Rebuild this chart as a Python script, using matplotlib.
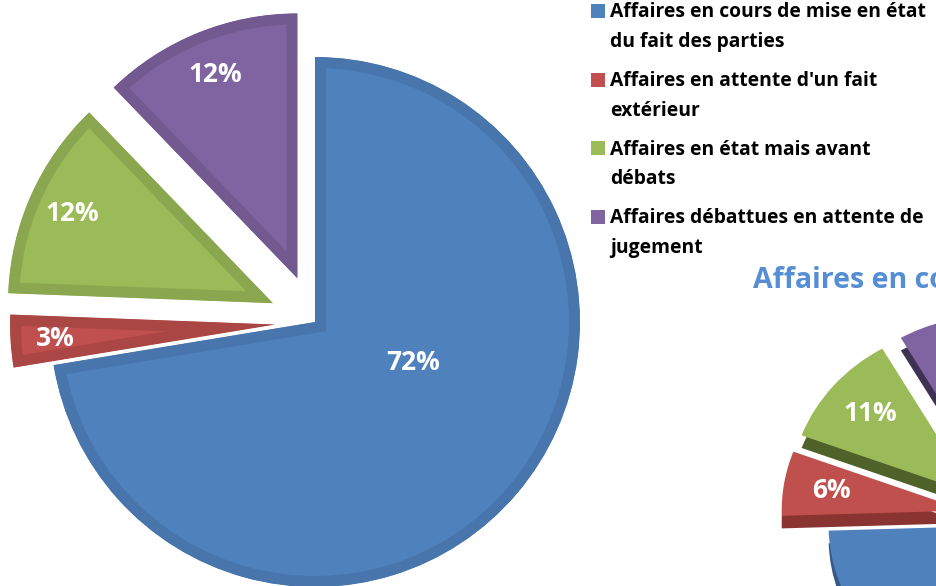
import matplotlib.pyplot as plt
from matplotlib.patches import Rectangle

plt.rcParams['font.family'] = ['Open Sans', 'DejaVu Sans']

# Données
categories = ["Affaires en cours de mise en état\ndu fait des parties",
              "Affaires en attente d'un fait\nextérieur",
              "Affaires en état mais avant\ndébats",
              "Affaires débattues en attente de\njugement"]
valeurs_1 = [72.4, 3.2, 12.2, 12.2]
valeurs_2 = [74.5, 6.2, 11.0, 8.3]
titre_2 = "Affaires en cours"

couleurs = ['#4F81BD', '#C0504D', '#9BBB59', '#8064A2']
bords = ['#4775AC', '#AA4744', '#8AA750', '#725A91']
cotes = ['#355A88', '#8A3432', '#4F6229', '#3F3151']

W, H = 937, 586
fig = plt.figure(figsize=(W / 100, H / 100), dpi=100)
fig.patch.set_facecolor('white')

# Camembert principal (coordonnées en pixels, y vers le haut)
ax1 = fig.add_axes([0, 0, 1, 1])
wedges, _, pcts = ax1.pie(valeurs_1, colors=couleurs, startangle=90, counterclock=False,
                          explode=[0, 40, 46, 47], center=(315, 264), radius=265,
                          autopct='%.0f%%', pctdistance=0.83,
                          wedgeprops=dict(linewidth=0), textprops=dict(color='white', fontsize=19, fontweight='bold'))
for w, b in zip(wedges, bords):
    w.set_edgecolor(b)
    w.set_linewidth(15.8)
    w.set_clip_on(True)
    w.set_clip_path(w)
pcts[0].set_position((413, 224))
ax1.set_aspect('auto')
ax1.set_xlim(0, W)
ax1.set_ylim(0, H)
ax1.axis('off')

# Légende
for i, (lab, c) in enumerate(zip(categories, couleurs)):
    y0 = H - (17.3 + 68.7 * i)
    ax1.add_patch(Rectangle((591, y0 - 0.5), 14, 14, facecolor=c, edgecolor='none'))
    for j, ligne in enumerate(lab.split('\n')):
        ax1.text(610, y0 - 29.5 * j, ligne, fontsize=13.9, fontweight='bold',
                 color='black', va='baseline', ha='left')

# Titre du second graphique (coupé par le bord)
ax1.text(753, H - 288, titre_2, fontsize=20.5, fontweight='bold', color='#558ED5',
         va='baseline', ha='left')

# Second camembert "3D" (ellipse, partiellement visible)
ax2 = fig.add_axes([0, 0, 1, 1])
ecl = [0.08, 0.2, 0.2, 0.2]
ax2.pie(valeurs_2, colors=cotes, startangle=90, counterclock=False, explode=ecl,
        center=(0, -0.075), wedgeprops=dict(linewidth=0))
w2, _, p2 = ax2.pie(valeurs_2, colors=couleurs, startangle=90, counterclock=False, explode=ecl,
                    autopct='%.0f%%', pctdistance=0.74, wedgeprops=dict(linewidth=0),
                    textprops=dict(color='white', fontsize=19, fontweight='bold'))
# étiquettes hors du cadre visible
p2[0].set_visible(False)
p2[3].set_visible(False)
cx, cy, a, b = 1002, H - 516, 184, 168
ax2.set_aspect('auto')
ax2.set_xlim(-cx / a, (W - cx) / a)
ax2.set_ylim(-cy / b, (H - cy) / b)
ax2.axis('off')

fig.savefig('out.png', dpi=100)
